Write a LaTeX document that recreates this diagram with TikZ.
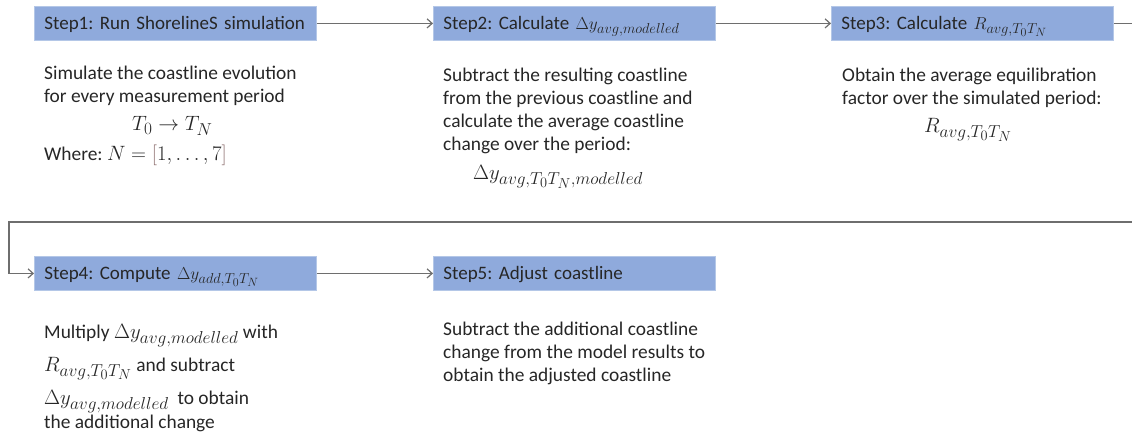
\documentclass[tikz,border=0pt]{standalone}
\usepackage{fontspec}
\setmainfont{Carlito}
\usetikzlibrary{arrows.meta}
\frenchspacing

\definecolor{boxfill}{HTML}{8FAADC}
\definecolor{boxedge}{HTML}{B4C7E7}
\definecolor{linegray}{HTML}{6E6E6E}
\definecolor{textgray}{HTML}{262626}
\definecolor{brackbrown}{HTML}{8C6E6E}

\DeclareMathSizes{19}{19}{15}{12}
\DeclareMathSizes{22}{22}{18}{14}
\newcommand{\mth}[1]{{\fontsize{22}{23}\selectfont$#1$}}

\tikzset{
  stepbox/.style={draw=boxedge, line width=0.8pt, fill=boxfill, anchor=north west,
    minimum width=282pt, minimum height=34pt, text width=262pt, inner xsep=10pt,
    inner ysep=0pt, align=left, text height=14pt, text depth=2pt,
    font=\fontsize{19}{20}\selectfont, text=textgray},
  stepnote/.style={anchor=north west, inner sep=0pt, align=left,
    font=\fontsize{19.4}{23}\selectfont, text=textgray},
  flow/.style={draw=linegray, line width=1.2pt, -{Straight Barb[length=5pt,width=9pt]}}
}

\begin{document}
\begin{tikzpicture}[x=1pt,y=1pt]
  \useasboundingbox (0,0) rectangle (1132,-436);
  \clip (0,0) rectangle (1132,-436);

  % Define step boxes
  \node[stepbox] (s1) at (34,-6) {Step1: Run ShorelineS simulation};
  \node[stepbox] (s2) at (433,-6) {Step2: Calculate $\Delta y_{avg,modelled}$};
  \node[stepbox] (s3) at (831,-6) {Step3: Calculate $R_{avg,T_0T_N}$};
  \node[stepbox] (s4) at (34,-256) {Step4: Compute $\Delta y_{add,T_0T_N}$};
  \node[stepbox] (s5) at (433,-256) {Step5: Adjust coastline};

  % Notes under the steps
  \node[stepnote] (n1) at (44,-66) {Simulate the coastline evolution\\
    for every measurement period\\[5pt]
    \hspace*{88pt}\mth{T_0 \rightarrow T_N}\\[7pt]
    Where: \mth{N = \textcolor{brackbrown}{[}1, \ldots , 7\textcolor{brackbrown}{]}}};
  \node[stepnote] (n2) at (443,-68) {Subtract the resulting coastline\\
    from the previous coastline and\\
    calculate the average coastline\\
    change over the period:\\[6pt]
    \hspace*{30pt}\mth{\Delta y_{avg,T_0T_N,modelled}}};
  \node[stepnote] (n3) at (842,-68) {Obtain the average equilibration\\
    factor over the simulated period:\\[5pt]
    \hspace*{82pt}\mth{R_{avg,T_0T_N}}};
  \node[stepnote] (n4) at (44,-324) {Multiply \mth{\Delta y_{avg,modelled}} with\\[10pt]
    \mth{R_{avg,T_0T_N}} and subtract\\[10pt]
    \mth{\Delta y_{avg,modelled}}\ \ to obtain\\[1pt]
    the additional change};
  \node[stepnote] (n5) at (443,-322) {Subtract the additional coastline\\
    change from the model results to\\
    obtain the adjusted coastline};

  % Draw arrows
  \coordinate (turnR) at (1150,-222);
  \coordinate (turnL) at (9,-222);
  \draw[flow] (s1.east) -- (s2.west);
  \draw[flow] (s2.east) -- (s3.west);
  \draw[flow] (s3.east) -| (turnR) -- (turnL) |- (s4.west);
  \draw[flow] (s4.east) -- (s5.west);
\end{tikzpicture}
\end{document}
